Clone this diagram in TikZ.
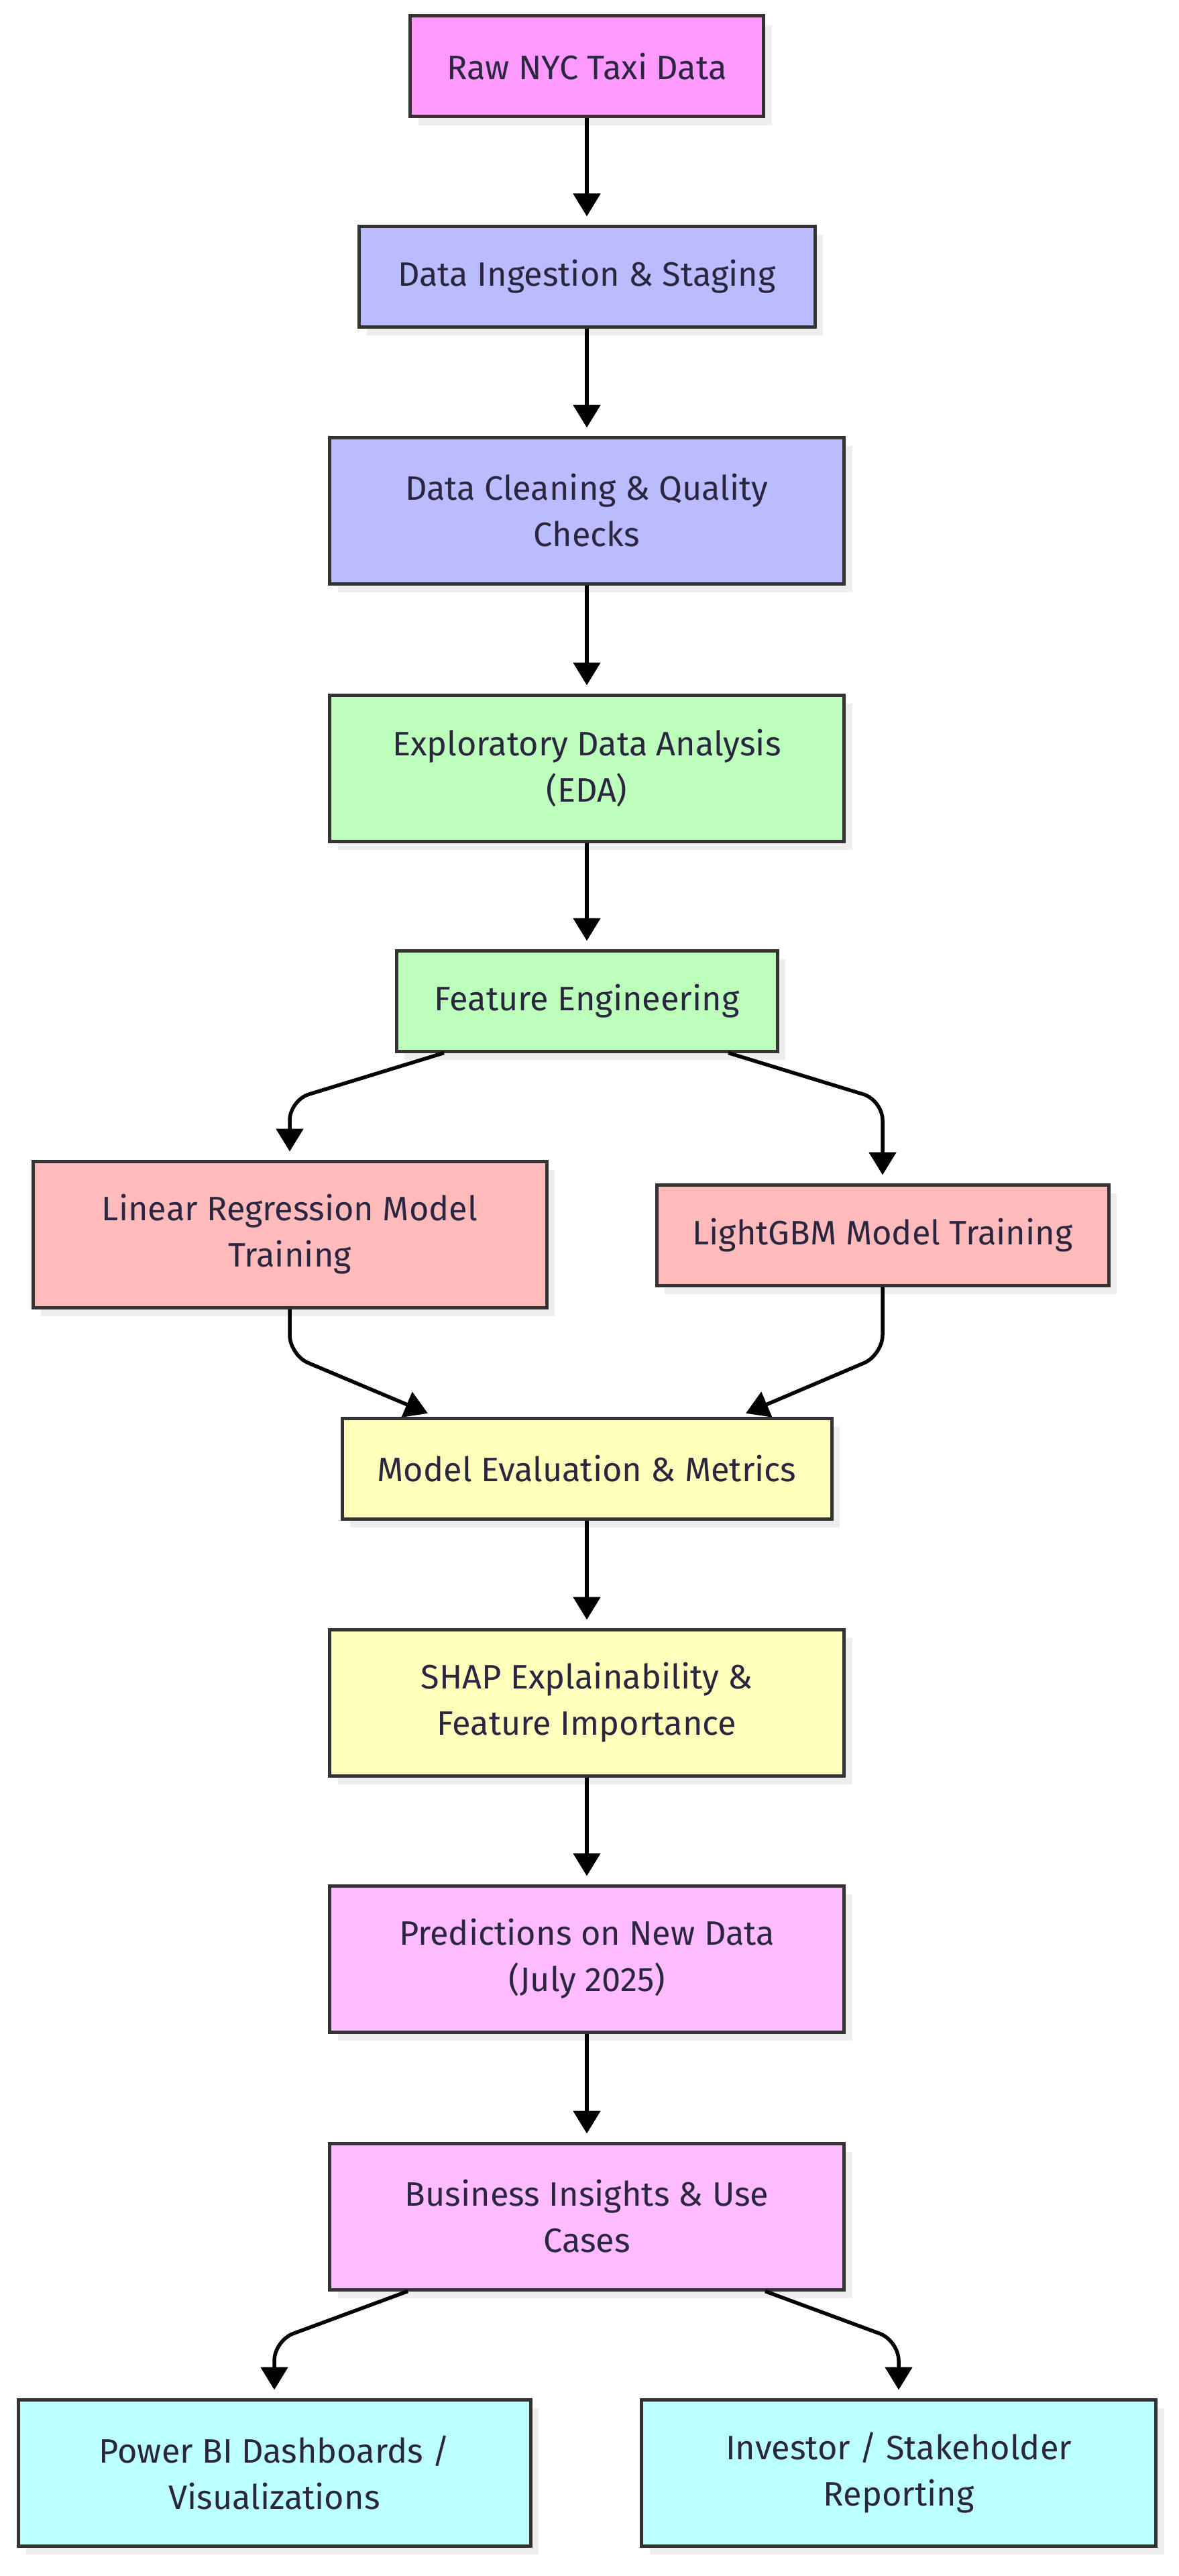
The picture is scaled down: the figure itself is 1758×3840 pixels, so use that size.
\documentclass[tikz,border=0pt]{standalone}
\usepackage{fontspec}
\setmainfont{Fira Sans}
\usetikzlibrary{arrows.meta,shadows}

\definecolor{edge}{HTML}{333333}
\definecolor{txt}{HTML}{2B2640}
\definecolor{shade}{HTML}{EEEEEE}
\definecolor{rawc}{HTML}{FF99FF}
\definecolor{prepc}{HTML}{BBBBFF}
\definecolor{explc}{HTML}{BBFFBB}
\definecolor{trainc}{HTML}{FFBBBB}
\definecolor{evalc}{HTML}{FFFFBB}
\definecolor{usec}{HTML}{FFBBFF}
\definecolor{outc}{HTML}{BBFFFF}

\begin{document}
\begin{tikzpicture}[x=1pt, y=1pt,
	box/.style={draw=edge, line width=5pt, fill=#1, text=txt, align=center,
		inner sep=0pt, minimum height=150pt,
		font=\fontsize{50.5}{69}\selectfont,
		drop shadow={shadow xshift=12pt, shadow yshift=-13pt, fill=shade, opacity=1}},
	tall/.style={minimum height=218pt},
	flow/.style={draw=black, line width=5.5pt, rounded corners=30pt,
		-{Triangle[width=40pt, length=34pt]}, shorten >=12pt},
	]
	\useasboundingbox (0,0) rectangle (1758,-3840);

	\node[box=rawc, minimum width=527pt] (raw) at (875,-99) {Raw NYC Taxi Data};
	\node[box=prepc, minimum width=680pt] (ingest) at (875,-412) {Data Ingestion \& Staging};
	\node[box=prepc, tall, minimum width=767pt] (clean) at (875,-761) {Data Cleaning \& Quality\\ Checks};
	\node[box=explc, tall, minimum width=767pt] (eda) at (875,-1145) {Exploratory Data Analysis\\ (EDA)};
	\node[box=explc, minimum width=568pt] (feat) at (875,-1492) {Feature Engineering};

	\node[box=trainc, tall, minimum width=766pt] (lr) at (432,-1840) {Linear Regression Model\\ Training};
	\node[box=trainc, minimum width=674pt] (lgb) at (1316,-1841) {LightGBM Model Training};

	\node[box=evalc, minimum width=730pt] (ev) at (875,-2189) {Model Evaluation \& Metrics};
	\node[box=evalc, tall, minimum width=767pt] (shap) at (875,-2538) {SHAP Explainability \&\\ Feature Importance};
	\node[box=usec, tall, minimum width=767pt] (pred) at (875,-2920) {Predictions on New Data\\ (July 2025)};
	\node[box=usec, tall, minimum width=767pt] (biz) at (875,-3304) {Business Insights \& Use\\ Cases};

	\node[box=outc, tall, minimum width=764pt] (bi) at (409,-3686) {Power BI Dashboards /\\ Visualizations};
	\node[box=outc, tall, minimum width=767pt] (inv) at (1340,-3686) {Investor / Stakeholder\\ Reporting};

	% bend points of the split and merge edges
	\coordinate (fsplit) at (875,-1640);
	\coordinate (emerge) at (875,-2020);
	\coordinate (bsplit) at (875,-3489);

	\draw[flow] (raw) to (ingest);
	\draw[flow] (ingest) to (clean);
	\draw[flow] (clean) to (eda);
	\draw[flow] (eda) to (feat);

	\draw[flow] ([xshift=-213pt]feat.south) -- (fsplit -| lr.north) -- (lr.north);
	\draw[flow] ([xshift=211pt]feat.south) -- (fsplit -| lgb.north) -- (lgb.north);
	\draw[flow] (lr.south) -- (emerge -| lr.south) -- ([xshift=-226pt]ev.north);
	\draw[flow] (lgb.south) -- (emerge -| lgb.south) -- ([xshift=226pt]ev.north);

	\draw[flow] (ev) to (shap);
	\draw[flow] (shap) to (pred);
	\draw[flow] (pred) to (biz);

	\draw[flow] ([xshift=-267pt]biz.south) -- (bsplit -| bi.north) -- (bi.north);
	\draw[flow] ([xshift=266pt]biz.south) -- (bsplit -| inv.north) -- (inv.north);
\end{tikzpicture}
\end{document}
